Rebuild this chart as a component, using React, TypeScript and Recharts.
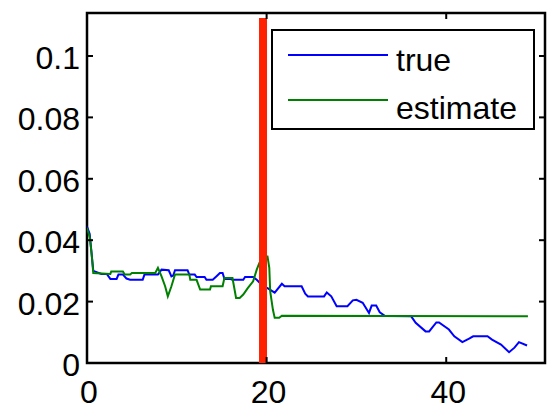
import React from "react";
import {
  LineChart,
  Line,
  XAxis,
  YAxis,
  ReferenceLine,
  ReferenceArea,
  Legend,
} from "recharts";

// Time steps and values of the true signal
const trueT = [
  0, 0.3, 0.7, 1.6, 2.2, 2.6, 3.3, 3.5, 4.0, 4.4, 4.8, 6.2, 6.4, 7.9, 8.3, 9.1,
  9.4, 9.6, 9.8, 11.2, 11.4, 12.0, 12.2, 13.1, 13.3, 14.0, 14.4, 14.8, 15.1,
  15.3, 15.9, 16.2, 17.4, 17.6, 18.5, 18.9, 19.6, 20.1, 20.9, 21.7, 22.0, 23.9,
  24.3, 24.6, 26.4, 26.7, 27.2, 27.8, 29.0, 29.6, 30.0, 30.7, 31.4, 31.7, 32.2,
  32.6, 33.2, 36.1, 36.6, 37.7, 38.1, 38.9, 39.2, 40.3, 40.9, 41.8, 42.6, 43.0,
  44.6, 45.1, 46.1, 47.0, 47.6, 48.1, 49.0,
];
const trueV = [
  0.0444, 0.042, 0.03, 0.029, 0.029, 0.0274, 0.0274, 0.0288, 0.0288, 0.0275,
  0.0271, 0.0271, 0.0288, 0.0288, 0.0304, 0.0302, 0.0282, 0.0285, 0.0302,
  0.0302, 0.0288, 0.0288, 0.028, 0.028, 0.0271, 0.0271, 0.0282, 0.0293, 0.0293,
  0.0274, 0.0274, 0.0271, 0.0271, 0.028, 0.028, 0.0271, 0.025, 0.0244, 0.0229,
  0.0258, 0.025, 0.025, 0.0226, 0.0217, 0.0217, 0.023, 0.0217, 0.0185, 0.0185,
  0.0204, 0.0206, 0.0196, 0.0163, 0.0187, 0.0187, 0.0165, 0.0153, 0.0152,
  0.0131, 0.0103, 0.0103, 0.0132, 0.0132, 0.0109, 0.0087, 0.0068, 0.008, 0.0087,
  0.0087, 0.0076, 0.006, 0.0035, 0.005, 0.0068, 0.0057,
];

// Time steps and values of the estimate
const estT = [
  0, 0.3, 0.5, 0.7, 2.6, 2.7, 4.0, 4.2, 4.8, 5.0, 7.6, 7.9, 8.3, 8.7, 9.0, 9.4,
  9.8, 11.4, 11.5, 12.2, 12.6, 13.7, 13.8, 15.1, 15.3, 16.2, 16.6, 17.0, 17.4,
  17.9, 18.5, 18.9, 19.2, 20.0, 20.1, 20.3, 20.4, 20.7, 20.9, 21.4, 21.7, 49.1,
];
const estV = [
  0.044, 0.041, 0.036, 0.0293, 0.029, 0.0298, 0.0298, 0.0288, 0.0288, 0.0293,
  0.0293, 0.031, 0.0282, 0.025, 0.0217, 0.025, 0.0288, 0.0288, 0.0271, 0.0271,
  0.0239, 0.0239, 0.025, 0.025, 0.0277, 0.0277, 0.0212, 0.0212, 0.0223, 0.0244,
  0.0266, 0.0304, 0.0326, 0.0347, 0.0347, 0.031, 0.0233, 0.0174, 0.0147, 0.0147,
  0.0154, 0.0152,
];

const xTicks = [0, 20, 40];
const yTicks = [0, 0.02, 0.04, 0.06, 0.08, 0.1];
const yTickLabels = ["0", "0.02", "0.04", "0.06", "0.08", "0.1"];
const xMax = 51;
const yMax = 0.114;
const splitAt = 19.6;

const seriesTrue = trueT.map((x, i) => ({ x, y: trueV[i] }));
const seriesEst = estT.map((x, i) => ({ x, y: estV[i] }));

const FONT = "'Liberation Sans', Arial, sans-serif";
const PLOT_LEFT = 87;
const PLOT_RIGHT = 545;
const PLOT_TOP = 13;
const PLOT_BOTTOM = 363;
const TICK_LEN = 6;

// left labels plus inward tick marks on both vertical sides
function YTick(props: any) {
  const { y, payload } = props;
  const idx = yTicks.indexOf(payload.value);
  return (
    <g>
      <line x1={PLOT_LEFT} x2={PLOT_LEFT + TICK_LEN} y1={y} y2={y} stroke="#000" strokeWidth={2} />
      <line x1={PLOT_RIGHT - TICK_LEN} x2={PLOT_RIGHT} y1={y} y2={y} stroke="#000" strokeWidth={2} />
      <text
        x={80}
        y={y}
        dy={13}
        textAnchor="end"
        fontFamily={FONT}
        fontSize={32}
        fill="#000"
      >
        {idx >= 0 ? yTickLabels[idx] : payload.value}
      </text>
    </g>
  );
}

// bottom labels plus inward tick marks on top and bottom
function XTick(props: any) {
  const { x, payload } = props;
  return (
    <g>
      <line x1={x} x2={x} y1={PLOT_BOTTOM} y2={PLOT_BOTTOM - TICK_LEN} stroke="#000" strokeWidth={2} />
      <line x1={x} x2={x} y1={PLOT_TOP} y2={PLOT_TOP + TICK_LEN} stroke="#000" strokeWidth={2} />
      <text
        x={x + 2}
        y={PLOT_BOTTOM + 40}
        textAnchor="middle"
        fontFamily={FONT}
        fontSize={32}
        fill="#000"
      >
        {payload.value}
      </text>
    </g>
  );
}

function LegendBox() {
  const items = [
    { name: "true", color: "#0000ff", y: 26, ty: 42 },
    { name: "estimate", color: "#008000", y: 71, ty: 90 },
  ];
  return (
    <svg width={264} height={102} style={{ display: "block" }}>
      <rect x={1} y={1} width={262} height={99} fill="#fff" stroke="#000" strokeWidth={2} />
      {items.map((it) => (
        <g key={it.name}>
          <line x1={17} x2={117} y1={it.y} y2={it.y} stroke={it.color} strokeWidth={2} />
          <text x={125} y={it.ty} fontFamily={FONT} fontSize={32} fill="#000">
            {it.name}
          </text>
        </g>
      ))}
    </svg>
  );
}

export default function App() {
  return (
    <div style={{ width: 548, height: 409, background: "#fff" }}>
      <style>{"body{margin:0}"}</style>
      <LineChart
        width={548}
        height={409}
        margin={{ top: PLOT_TOP, right: 548 - PLOT_RIGHT, bottom: 0, left: 0 }}
      >
        <XAxis
          dataKey="x"
          type="number"
          domain={[0, xMax]}
          ticks={xTicks}
          allowDataOverflow
          height={409 - PLOT_BOTTOM}
          axisLine={false}
          tickLine={false}
          tick={<XTick />}
        />
        <YAxis
          type="number"
          domain={[0, yMax]}
          ticks={yTicks}
          allowDataOverflow
          width={PLOT_LEFT}
          axisLine={false}
          tickLine={false}
          tick={<YTick />}
        />
        {/* axes box */}
        <ReferenceArea
          x1={0}
          x2={xMax}
          y1={0}
          y2={yMax}
          fill="none"
          stroke="#000"
          strokeWidth={2.5}
          ifOverflow="visible"
        />
        <Legend
          layout="horizontal"
          verticalAlign="middle"
          align="center"
          wrapperStyle={{ left: 271, top: 29, width: 264, height: 102 }}
          content={<LegendBox />}
        />
        <Line
          data={seriesTrue}
          dataKey="y"
          name="true"
          type="linear"
          stroke="#0000ff"
          strokeWidth={2}
          dot={false}
          isAnimationActive={false}
        />
        <Line
          data={seriesEst}
          dataKey="y"
          name="estimate"
          type="linear"
          stroke="#008000"
          strokeWidth={2}
          dot={false}
          isAnimationActive={false}
        />
        <ReferenceLine
          segment={[
            { x: splitAt, y: 0 },
            { x: splitAt, y: 0.1124 },
          ]}
          stroke="#ff2200"
          strokeWidth={8}
          ifOverflow="visible"
        />
      </LineChart>
    </div>
  );
}
